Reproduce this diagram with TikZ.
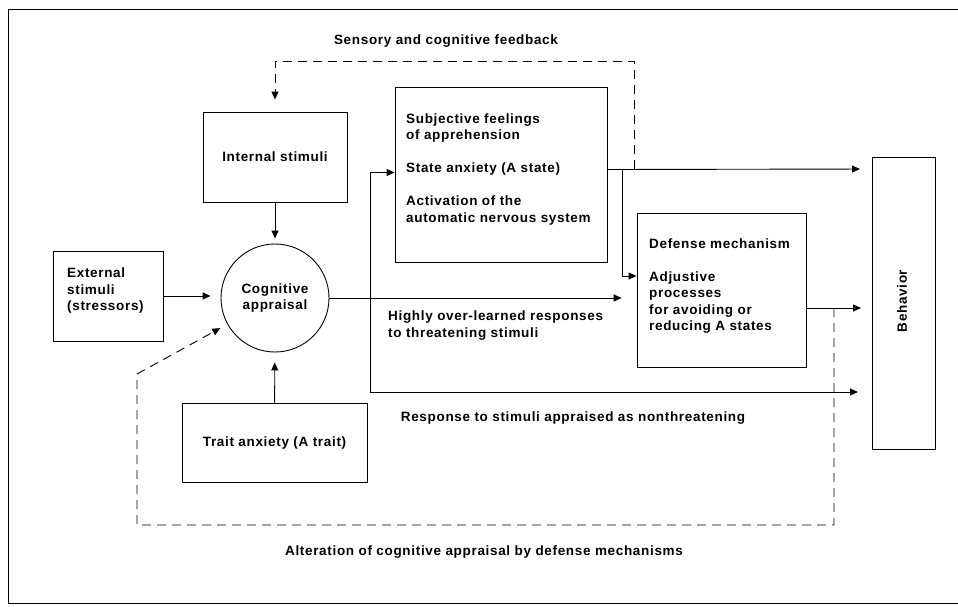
\documentclass[tikz,border=0pt]{standalone}
\usepackage{fontspec}
\setmainfont[LetterSpace=5]{Liberation Sans}
\usetikzlibrary{arrows.meta}
\begin{document}
\begin{tikzpicture}[x=1pt,y=-1pt,
  ln/.style={line width=0.9pt},
  box/.style={draw,ln,inner sep=0pt},
  txt/.style={font=\bfseries\fontsize{13.5}{16.5}\selectfont,inner sep=0pt},
  arr/.style={ln,-{Triangle[length=8pt,width=7pt]}},
  dsh/.style={ln,dash pattern=on 9pt off 6pt},
  dsharr/.style={dsh,-{Triangle[length=8pt,width=7pt]}}]
\useasboundingbox (0,0) rectangle (958,606);
\fill[white] (0,0) rectangle (958,606);
% frame
\draw[ln] (958,9) -- (8,9) -- (8,603) -- (958,603);
% nodes
\node[box,txt,minimum width=144pt,minimum height=90pt] (int) at (275,157) {Internal stimuli};
\node[box,txt,circle,minimum size=108pt,align=center] (circ) at (275,298) {Cognitive\\appraisal};
\node[box,txt,minimum width=185pt,minimum height=79pt] (trait) at (274.5,442.5) {Trait anxiety (A trait)};
\node[box,minimum width=110pt,minimum height=90pt] (ext) at (108,296) {};
\node[txt,anchor=west,align=left] (extT) at (67,291) {External\\stimuli\\(stressors)};
\node[box,minimum width=212pt,minimum height=175pt] (state) at (501,174.5) {};
\node[txt,anchor=west,align=left] (stateT) at (406,169.5) {Subjective feelings\\of apprehension\\[16.5pt]State anxiety (A state)\\[16.5pt]Activation of the\\automatic nervous system};
\node[box,minimum width=169pt,minimum height=154pt] (def) at (721.5,290) {};
\node[txt,anchor=west,align=left] (defT) at (649,286.5) {Defense mechanism\\[16pt]Adjustive\\processes\\for avoiding or\\reducing A states};
\node[box,minimum width=63pt,minimum height=292pt] (beh) at (903.5,303) {};
\node[txt,rotate=90] (behT) at (902,301) {Behavior};
% labels
\node[txt] (lfb) at (446,41) {Sensory and cognitive feedback};
\node[txt,anchor=west,align=left] (lhi) at (388,325.5) {Highly over-learned responses\\to threatening stimuli};
\node[txt] (lres) at (573,418) {Response to stimuli appraised as nonthreatening};
\node[txt] (lalt) at (484,552) {Alteration of cognitive appraisal by defense mechanisms};
% coordinates
\coordinate (br1) at (370,297);
\coordinate (bIn1) at (872,169);
\coordinate (bIn2) at (872,308);
\coordinate (bIn3) at (872,392);
\coordinate (br3) at (622,169);
\coordinate (fb) at (634,169);
\coordinate (fbTop) at (275,61);
\coordinate (alt) at (834,308);
\coordinate (altB) at (137,525);
\coordinate (altL) at (137,374);
% connectors
\draw[arr,shorten >=10pt] (ext.east) -- (ext.east -| circ.west);
\draw[arr,shorten >=5pt] (int) -- (circ);
\draw[arr,shorten >=10pt] (trait) -- (circ);
\draw[arr,shorten >=15pt] (circ.east) -- (circ.east -| def.west);
\draw[arr] (br1) |- ([yshift=2pt]state.west);
\draw[arr,shorten >=14pt] (br1) |- (bIn3);
\draw[arr,shorten >=12pt] ([yshift=5pt]state.east) -- (bIn1);
\draw[arr] (br3) |- ([yshift=14pt]def.west);
\draw[arr,shorten >=11pt] ([yshift=-18pt]def.east) -- (bIn2);
\draw[dsharr,shorten >=12pt] (fb) |- (fbTop) -- (int.north);
\draw[dsharr,shorten >=8pt] (alt) |- (altB) -- (altL) -- (circ);
\end{tikzpicture}
\end{document}
